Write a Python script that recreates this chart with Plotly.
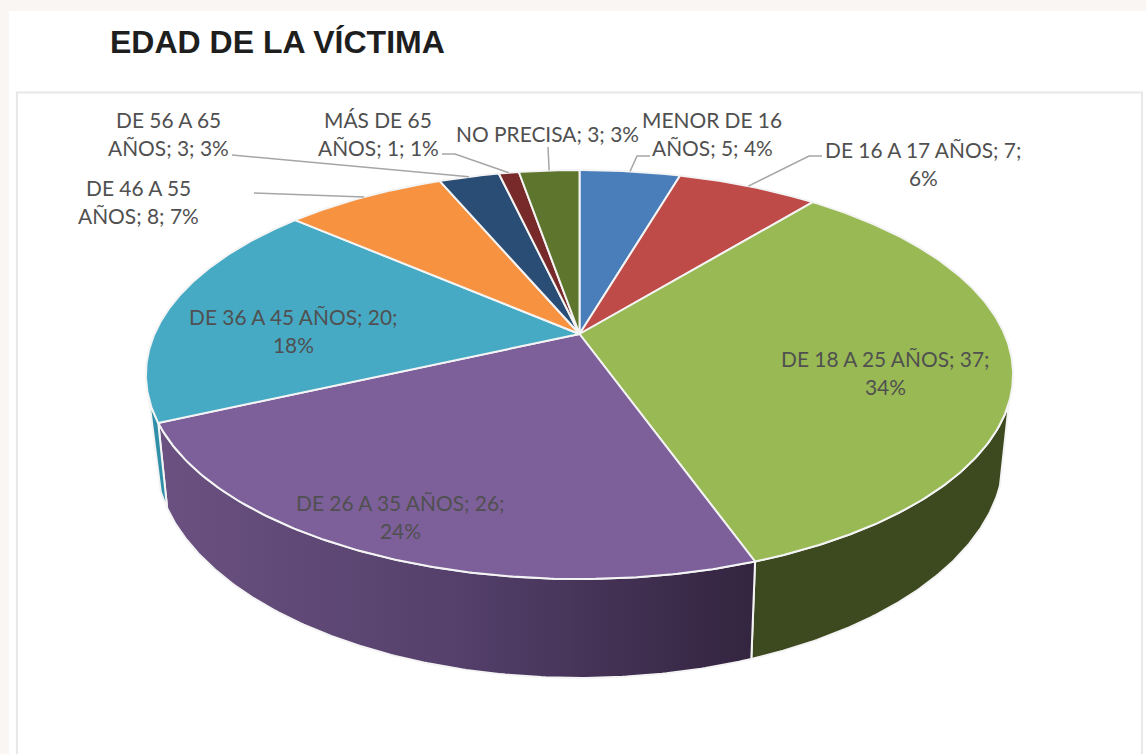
import numpy as np
import plotly.graph_objects as go

# ---- data ----
categories = ["MENOR DE 16 AÑOS", "DE 16 A 17 AÑOS", "DE 18 A 25 AÑOS", "DE 26 A 35 AÑOS",
              "DE 36 A 45 AÑOS", "DE 46 A 55 AÑOS", "DE 56 A 65 AÑOS", "MÁS DE 65 AÑOS", "NO PRECISA"]
values = [5, 7, 37, 26, 20, 8, 3, 1, 3]
percents = [4, 6, 34, 24, 18, 7, 3, 1, 3]
title_text = "EDAD DE LA VÍCTIMA"

# ---- styling ----
top_colors = ["#4a7ebb", "#be4b48", "#98b954", "#7d5f9a", "#46aac5", "#f69240", "#2a4d76", "#772a29", "#5d752c"]
wall_fill = {2: "#3d4a20", 4: "#2f8fa8"}
wall_gradient = {3: [[0, "#6b5181"], [0.5, "#54406b"], [1, "#33243f"]]}
label_breaks = ["MENOR DE 16", "DE 16 A 17 AÑOS; 7;", "DE 18 A 25 AÑOS; 37;", "DE 26 A 35 AÑOS; 26;",
                "DE 36 A 45 AÑOS; 20;", "DE 46 A 55", "DE 56 A 65", "MÁS DE 65", None]
label_centers = [(712, 119), (923, 149), (885, 358), (400, 502), (293, 316), (138, 187), (168, 119), (378, 119), (547, 133)]
leader_elbows = [[(650, 156), (637, 156)], [(822, 156), (809, 156)], None, None, None,
                 [(254, 193)], [(232, 155)], [(442, 154), (455, 154)], [(548, 147)]]
LINE_STEP = 28
LABEL_FONT = dict(family="Lato", size=20.9, color="#505050")

# perspective of the disc (pixel axes)
CX, CY, RX, RY, K = 579.5, 334.0, 425.0, 196.5, 0.198
BX, BCY, BRY = 416.0, 411.5, 213.7
WALL_TOP = (109.0, 252.0)
WALL_BOTTOM = (109.0, 249.5)


def rim(deg, rx=RX, ry=RY, cy=CY):
    t = np.radians(deg)
    u, v = np.sin(t), np.cos(t)
    d = 1 + K * v
    return CX + rx * u / d, cy - ry * v / d


def arc(a, b, **kw):
    n = max(2, int(abs(b - a) * 2) + 2)
    return rim(np.linspace(a, b, n), **kw)


fig = go.Figure()
edges = np.concatenate([[0], np.cumsum(values)]) / sum(values) * 360.0

# side walls
for i, col in enumerate(top_colors):
    a, b = edges[i], edges[i + 1]
    ta, tb = max(a, WALL_TOP[0]), min(b, WALL_TOP[1])
    ba, bb = max(a, WALL_BOTTOM[0]), min(b, WALL_BOTTOM[1])
    if ta >= tb or ba >= bb:
        continue
    x1, y1 = arc(ta, tb)
    x2, y2 = arc(bb, ba, rx=BX, ry=BRY, cy=BCY)
    kw = dict(x=np.r_[x1, x2, x1[0]], y=np.r_[y1, y2, y1[0]], mode="lines", fill="toself",
              line=dict(color="#f4f4f4", width=2), hoverinfo="skip", showlegend=False)
    if i in wall_gradient:
        kw["fillgradient"] = dict(type="horizontal", colorscale=wall_gradient[i])
    else:
        kw["fillcolor"] = wall_fill.get(i, col)
    fig.add_trace(go.Scatter(**kw))

# top faces
for i, col in enumerate(top_colors):
    x, y = arc(edges[i], edges[i + 1])
    fig.add_trace(go.Scatter(x=np.r_[CX, x, CX], y=np.r_[CY, y, CY], mode="lines", fill="toself",
                             fillcolor=col, line=dict(color="#f4f4f4", width=2),
                             hoverinfo="skip", showlegend=False, name=categories[i]))

# leader lines, ending on the rim at each slice's middle
for i, elbow in enumerate(leader_elbows):
    if elbow is None:
        continue
    ex, ey = rim((edges[i] + edges[i + 1]) / 2)
    fig.add_trace(go.Scatter(x=[p[0] for p in elbow] + [ex], y=[p[1] for p in elbow] + [ey], mode="lines",
                             line=dict(color="#a6a6a6", width=1.5), hoverinfo="skip", showlegend=False))

# labels
ann = []
for i, cat in enumerate(categories):
    text = f"{cat}; {values[i]}; {percents[i]}%"
    lines = [text]
    if label_breaks[i]:
        lines = [label_breaks[i], text[len(label_breaks[i]):].strip()]
    lx, ly = label_centers[i]
    for j, line in enumerate(lines):
        ann.append(dict(x=lx, y=ly + j * LINE_STEP, text=line, showarrow=False, xanchor="center",
                        yanchor="middle", font=LABEL_FONT))
ann.append(dict(x=108, y=42, text=f"<b>{title_text}</b>", showarrow=False, xanchor="left", yanchor="middle",
                font=dict(family="Liberation Sans", size=32, color="#1e1e1e")))

shapes = [
    dict(type="rect", x0=9, y0=11, x1=1146, y1=754, fillcolor="white", line=dict(width=0), layer="below"),
    dict(type="rect", x0=17, y0=92.5, x1=1142, y1=770, fillcolor="rgba(0,0,0,0)",
         line=dict(color="#e8e8e8", width=2), layer="below"),
]

fig.update_layout(
    width=1146, height=754, margin=dict(l=0, r=0, t=0, b=0),
    paper_bgcolor="#f9f6f3", plot_bgcolor="rgba(0,0,0,0)",
    xaxis=dict(range=[0, 1146], visible=False, fixedrange=True),
    yaxis=dict(range=[754, 0], visible=False, fixedrange=True),
    annotations=ann, shapes=shapes, showlegend=False,
)
fig.write_html("out.html", config={"displayModeBar": False},
               post_script="document.body.style.margin='0';document.body.style.overflow='hidden';")
